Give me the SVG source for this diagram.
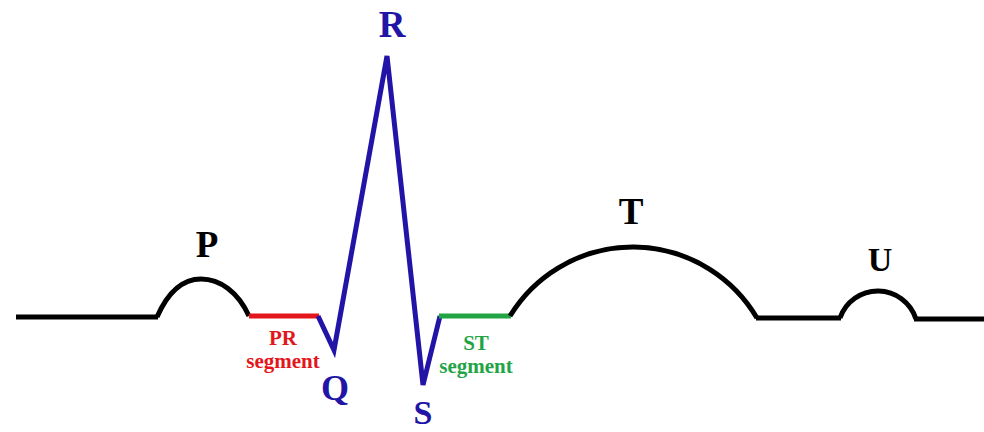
<svg xmlns="http://www.w3.org/2000/svg" width="984" height="432" viewBox="0 0 984 432">
<style>
.w{fill:none;stroke-width:5;stroke-linejoin:miter}
.k{stroke:#000}
.b{stroke:#2214a6}
.r{stroke:#e3161b}
.g{stroke:#22a445}
.t{font-family:"Liberation Serif","Times New Roman",serif;font-weight:bold;text-anchor:middle}
.big{font-size:37px}
.sm{font-size:21px}
</style>
<rect width="984" height="432" fill="#fff"/>
<g id="connectors">
<path class="w k" d="M16,317 L158,317"/>
<path class="w k" d="M756,318 L841,318"/>
<path class="w k" d="M914,319 L984,319"/>
</g>
<g id="P-wave">
<path class="w k" d="M157,317 C168,292 182,279 201,279 C220,279 238,292 249,316"/>
<text class="t big" x="207" y="257">P</text>
</g>
<g id="PR-segment">
<path class="w r" d="M249,316 L319,316"/>
<text class="t sm" x="283" y="345" fill="#e3161b">PR</text>
<text class="t sm" x="283" y="368" fill="#e3161b">segment</text>
</g>
<g id="QRS">
<path class="w b" d="M318,316 L334,350 L387,56 L423,385 L440,316"/>
<text class="t" font-size="36" x="335" y="400" fill="#2214a6">Q</text>
<text class="t big" x="392" y="37" fill="#2214a6">R</text>
<text class="t" font-size="34" x="423" y="424" fill="#2214a6">S</text>
</g>
<g id="ST-segment">
<path class="w g" d="M439,316 L511,316"/>
<text class="t sm" x="476" y="350" fill="#22a445">ST</text>
<text class="t sm" x="476" y="373" fill="#22a445">segment</text>
</g>
<g id="T-wave">
<path class="w k" d="M510,316 A144,144 0 0 1 757,318"/>
<text class="t big" x="631" y="224">T</text>
</g>
<g id="U-wave">
<path class="w k" d="M840,318 A40,40 0 0 1 916,319"/>
<text class="t" font-size="34" x="880" y="271">U</text>
</g>
</svg>
